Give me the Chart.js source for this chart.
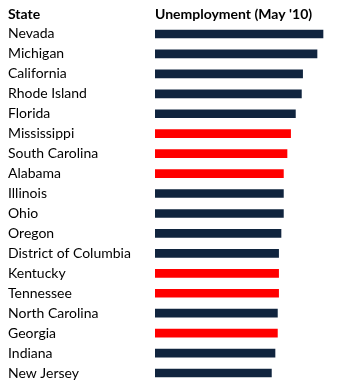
<!DOCTYPE html>
<html><head><meta charset="utf-8">
<script src="https://cdn.jsdelivr.net/npm/chart.js@4"></script>
<style>html,body{margin:0;padding:0;background:#fff}#wrap{width:357px;height:383px}</style>
</head><body><div id="wrap"><canvas id="c" width="357" height="383"></canvas></div>
<script>
const states = ["Nevada","Michigan","California","Rhode Island","Florida","Mississippi","South Carolina","Alabama","Illinois","Ohio","Oregon","District of Columbia","Kentucky","Tennessee","North Carolina","Georgia","Indiana","New Jersey"];
const unemployment = [14.0,13.5,12.3,12.2,11.7,11.3,11.0,10.7,10.7,10.7,10.5,10.3,10.3,10.3,10.2,10.2,10.0,9.7];
const highlighted = [false,false,false,false,false,true,true,true,false,false,false,false,true,true,false,true,false,false];
const headerState = "State";
const headerValue = "Unemployment (May '10)";
const NAVY = "#10243e", RED = "#ff0000";
const FONT = "Lato, 'Liberation Sans', Arial, sans-serif";

const headerPlugin = {
  id: 'hdr',
  afterDraw(chart) {
    const ctx = chart.ctx;
    ctx.save();
    ctx.font = "bold 14px " + FONT;
    ctx.fillStyle = "#000";
    ctx.textBaseline = "middle";
    ctx.textAlign = "left";
    ctx.fillText(headerState, chart.scales.y.left, 14);
    ctx.fillText(headerValue, chart.chartArea.left, 14);
    ctx.restore();
  }
};

new Chart(document.getElementById('c'), {
  type: 'bar',
  data: {
    labels: states,
    datasets: [{
      data: unemployment,
      backgroundColor: highlighted.map(h => h ? RED : NAVY),
      barThickness: 8,
      borderWidth: 0
    }]
  },
  options: {
    indexAxis: 'y',
    responsive: false,
    animation: false,
    layout: { padding: { left: 8, right: 10, top: 24, bottom: -1 } },
    plugins: { legend: { display: false }, tooltip: { enabled: false } },
    scales: {
      x: { display: false, min: 0, max: 16 },
      y: {
        grid: { display: false },
        border: { display: false },
        ticks: { crossAlign: 'far', color: '#000', padding: 0, font: { family: FONT, size: 14 } },
        afterFit(s) { s.width = 147; s.paddingTop = 0; s.paddingBottom = 0; }
      }
    }
  },
  plugins: [headerPlugin]
});
</script></body></html>
